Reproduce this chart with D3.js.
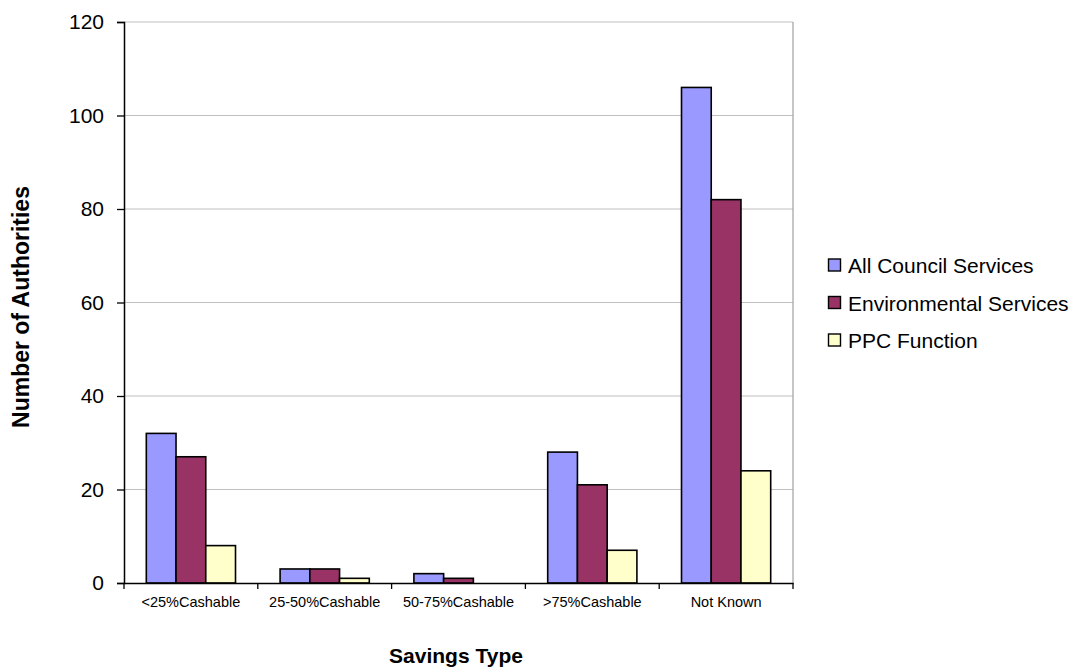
<!DOCTYPE html>
<html>
<head>
<meta charset="utf-8">
<script src="https://cdn.jsdelivr.net/npm/d3@7"></script>
<style>
  html, body { margin: 0; padding: 0; background: #fff; }
  svg { display: block; font-family: "Liberation Sans", Arial, sans-serif; }
</style>
</head>
<body>
<svg id="chart" width="1080" height="670"></svg>
<script>
// Savings type categories and counts of authorities per series
const categories = ["<25%Cashable", "25-50%Cashable", "50-75%Cashable", ">75%Cashable", "Not Known"];
const seriesNames = ["All Council Services", "Environmental Services", "PPC Function"];
const allCouncil = [32, 3, 2, 28, 106];
const environmental = [27, 3, 1, 21, 82];
const ppc = [8, 1, 0, 7, 24];
const yTicks = [0, 20, 40, 60, 80, 100, 120];
const colors = ["#9999FF", "#993366", "#FFFFCC"];

const seriesValues = [allCouncil, environmental, ppc];
const FONT = "'Liberation Sans', Arial, sans-serif";

const svg = d3.select("#chart");
const plot = { left: 124, right: 793, top: 22, bottom: 583 };

const x0 = d3.scaleBand().domain(categories).range([plot.left, plot.right]).paddingInner(0).paddingOuter(0);
const y = d3.scaleLinear().domain([0, 120]).range([plot.bottom, plot.top]);
const barW = x0.bandwidth() / 4.5;
const x1 = d3.scaleBand().domain(seriesNames).range([0, barW * 3]);

// Gridlines
svg.append("g").selectAll("line").data(yTicks.filter(d => d > 0)).join("line")
  .attr("x1", plot.left).attr("x2", plot.right)
  .attr("y1", d => y(d)).attr("y2", d => y(d))
  .attr("stroke", "#c0c0c0").attr("stroke-width", 1.2);

// Right border of plot area
svg.append("line")
  .attr("x1", plot.right).attr("x2", plot.right)
  .attr("y1", plot.top).attr("y2", plot.bottom)
  .attr("stroke", "#a0a0a0").attr("stroke-width", 1.2);

// Bars
const groups = svg.append("g").selectAll("g").data(categories).join("g")
  .attr("transform", d => `translate(${x0(d) + barW * 0.75},0)`);
groups.selectAll("rect")
  .data((c, i) => seriesNames.map((s, j) => ({ s, v: seriesValues[j][i], j })))
  .join("rect")
  .filter(d => d.v > 0)
  .attr("x", d => x1(d.s))
  .attr("width", x1.bandwidth())
  .attr("y", d => y(d.v))
  .attr("height", d => y(0) - y(d.v))
  .attr("fill", d => colors[d.j])
  .attr("stroke", "#000").attr("stroke-width", 1.6);

// Y axis
const yAxis = d3.axisLeft(y).tickValues(yTicks).tickSize(7).tickPadding(13);
const gy = svg.append("g").attr("transform", `translate(${plot.left},0)`).call(yAxis);
gy.select(".domain").attr("stroke", "#000").attr("stroke-width", 1.5);
gy.selectAll(".tick line").attr("stroke", "#000").attr("stroke-width", 1.3);
gy.selectAll("text").attr("font-size", 21).attr("fill", "#000").attr("font-family", FONT);

// X axis
const xAxis = d3.axisBottom(x0).tickSize(0).tickPadding(14);
const gx = svg.append("g").attr("transform", `translate(0,${plot.bottom})`).call(xAxis);
gx.select(".domain").attr("stroke", "#000").attr("stroke-width", 1.5);
gx.selectAll("text").attr("font-size", 14.5).attr("fill", "#000").attr("font-family", FONT);
// Category boundary ticks
const bounds = categories.map(c => x0(c)).concat([plot.right]);
svg.append("g").selectAll("line").data(bounds).join("line")
  .attr("x1", d => d).attr("x2", d => d)
  .attr("y1", plot.bottom).attr("y2", plot.bottom + 6)
  .attr("stroke", "#000").attr("stroke-width", 1.3);

// Axis titles
svg.append("text")
  .attr("x", 456).attr("y", 663)
  .attr("text-anchor", "middle").attr("font-size", 21).attr("font-weight", "bold")
  .text("Savings Type");
svg.append("text")
  .attr("transform", `translate(29,307) rotate(-90)`)
  .attr("text-anchor", "middle").attr("font-size", 23).attr("font-weight", "bold")
  .text("Number of Authorities");

// Legend
const legend = svg.append("g").attr("transform", "translate(828,265)");
const items = legend.selectAll("g").data(seriesNames).join("g")
  .attr("transform", (d, i) => `translate(0,${i * 37.5})`);
items.append("rect")
  .attr("x", 0.5).attr("y", -6).attr("width", 12).attr("height", 12)
  .attr("fill", (d, i) => colors[i]).attr("stroke", "#000").attr("stroke-width", 1.4);
items.append("text")
  .attr("x", 20).attr("y", 1).attr("dy", "0.35em")
  .attr("font-size", 21).text(d => d);
</script>
</body>
</html>
